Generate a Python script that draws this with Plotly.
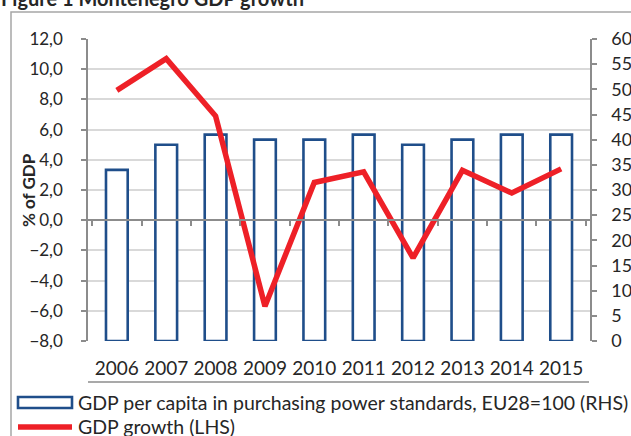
import plotly.graph_objects as go

years = ["2006", "2007", "2008", "2009", "2010", "2011", "2012", "2013", "2014", "2015"]
gdp_pc_pps = [34, 39, 41, 40, 40, 41, 39, 40, 41, 41]          # RHS
gdp_growth = [8.6, 10.7, 6.9, -5.7, 2.5, 3.2, -2.5, 3.3, 1.8, 3.4]  # LHS

bar_name = "GDP per capita in purchasing power standards, EU28=100 (RHS)"
line_name = "GDP growth (LHS)"
title_text = "Figure 1 Montenegro GDP growth"
ytitle = "% of GDP"

W, H = 631, 436
L, R, T, B = 88, 41, 39, 95
pw, ph = W - L - R, H - T - B

def px(x):
    return (x - L) / pw

def py(y):
    return (H - B - y) / ph

FONT = "Lato"
TXT = "#262626"
BLUE = "#1F4E8A"
RED = "#EE2027"
AX = "#8C8C8C"

fig = go.Figure()
# bars on the base (right-side) axis, line on the overlaying (left-side) axis so it draws on top
fig.add_trace(go.Bar(x=years, y=gdp_pc_pps, yaxis="y", name=bar_name,
                     marker=dict(color="white", line=dict(color=BLUE, width=2.6)),
                     width=0.44, showlegend=False))
fig.add_trace(go.Scatter(x=years, y=gdp_growth, yaxis="y2", name=line_name, mode="lines",
                         line=dict(color=RED, width=5.5), showlegend=False))
# invisible trace for zero-line axis
fig.add_trace(go.Scatter(x=years, y=[0]*len(years), xaxis="x2", yaxis="y2", mode="markers",
                         marker=dict(opacity=0), showlegend=False, hoverinfo="skip"))

fig.update_layout(
    width=W, height=H, margin=dict(l=L, r=R, t=T, b=B, autoexpand=False),
    paper_bgcolor="white", plot_bgcolor="white",
    separators=",.",
    font=dict(family=FONT, size=18, color=TXT),
    xaxis=dict(type="category", showgrid=False, showline=False, ticks="",
               ticklabelstandoff=14, tickfont=dict(size=19), automargin=False),
    xaxis2=dict(type="category", overlaying="x", matches="x", anchor="free", position=0.4,
                showline=True, linecolor=AX, linewidth=1.5, ticks="outside",
                tickson="boundaries", ticklen=5, tickcolor=AX, tickwidth=1.5,
                showticklabels=False, showgrid=False),
    yaxis=dict(range=[0, 60], dtick=5, side="right", showgrid=False,
               zeroline=False, showline=True, linecolor=AX, linewidth=1.5,
               ticks="outside", ticklen=5, tickcolor=AX, tickwidth=1.5,
               ticklabelstandoff=11, tickfont=dict(size=18), automargin=False),
    yaxis2=dict(range=[-8, 12], dtick=2, tickformat=".1f", overlaying="y", side="left",
                showgrid=True, gridcolor="#D9D9D9", gridwidth=1.5, zeroline=False,
                showline=True, linecolor=AX, linewidth=1.5,
                ticks="outside", ticklen=5, tickcolor=AX, tickwidth=1.5,
                ticklabelstandoff=15, tickfont=dict(size=17), automargin=False),
)

shapes = [
    # outer chart frame
    dict(type="rect", xref="paper", yref="paper", x0=px(11), x1=px(700), y0=py(12), y1=py(520),
         line=dict(color="#A6A6A6", width=1.5), fillcolor="rgba(0,0,0,0)", layer="below"),
    # line under category labels
    dict(type="line", xref="paper", yref="paper", x0=px(88), x1=px(589), y0=py(382), y1=py(382),
         line=dict(color=AX, width=1.5)),
    # legend symbols
    dict(type="rect", xref="paper", yref="paper", x0=px(18), x1=px(72), y0=py(397), y1=py(408),
         line=dict(color=BLUE, width=2.6), fillcolor="white"),
    dict(type="line", xref="paper", yref="paper", x0=px(18), x1=px(72), y0=py(427), y1=py(427),
         line=dict(color=RED, width=5.5)),
]
fig.update_layout(shapes=shapes)

annotations = [
    dict(text=bar_name, xref="paper", yref="paper", x=px(76), y=py(402), xanchor="left",
         yanchor="middle", showarrow=False, font=dict(size=19.5, color=TXT)),
    dict(text=line_name, xref="paper", yref="paper", x=px(76), y=py(427), xanchor="left",
         yanchor="middle", showarrow=False, font=dict(size=19.5, color=TXT)),
    dict(text="<b>" + ytitle + "</b>", xref="paper", yref="paper", x=px(28), y=py(190),
         xanchor="center", yanchor="middle", textangle=-90, showarrow=False,
         font=dict(size=17, color=TXT)),
    dict(text="<b>" + title_text + "</b>", xref="paper", yref="paper", x=px(-1), y=py(12),
         xanchor="left", yanchor="bottom", showarrow=False, font=dict(size=20, color=TXT)),
]
fig.update_layout(annotations=annotations)

fig.write_html("out.html", config={"displayModeBar": False},
               post_script="document.body.style.margin='0';document.body.style.overflow='hidden';")
